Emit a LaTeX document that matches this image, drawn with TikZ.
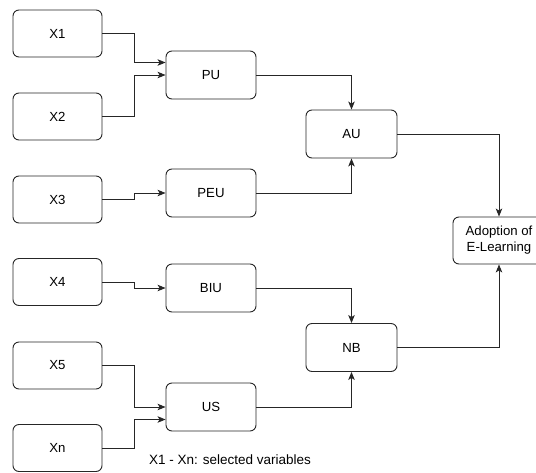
\documentclass[tikz,border=0pt]{standalone}
\usepackage{fontspec}
\setmainfont{Liberation Sans}
\usetikzlibrary{arrows.meta}
\begin{document}
\begin{tikzpicture}[x=1pt,y=-1pt,
  box/.style={draw=black!85, line width=0.9pt, rounded corners=6pt, minimum height=47pt, inner sep=0pt, font=\fontsize{13.2}{16}\selectfont, align=center},
  xbox/.style={box, minimum width=89pt},
  mbox/.style={box, minimum width=90pt, minimum height=48pt},
  arr/.style={draw=black!85, line width=0.9pt, -{Stealth[length=8pt,width=6.5pt,inset=2pt]}}
]
\useasboundingbox (0,0) rectangle (536,472);
\clip (0,0) rectangle (536,472);
\node[xbox] (X1) at (57.5,33.5) {X1};
\node[xbox] (X2) at (57.5,116.5) {X2};
\node[xbox] (X3) at (57.5,199.5) {X3};
\node[xbox] (X4) at (57.5,282) {X4};
\node[xbox] (X5) at (57.5,365.5) {X5};
\node[xbox] (Xn) at (57.5,448) {Xn};
\node[mbox] (PU) at (211,75) {PU};
\node[mbox] (PEU) at (211,193) {PEU};
\node[mbox] (BIU) at (211,288) {BIU};
\node[mbox] (US) at (211,407) {US};
\node[mbox, minimum width=91pt] (AU) at (351.5,134) {AU};
\node[mbox, minimum width=91pt] (NB) at (351.5,347.5) {NB};
\node[box, minimum width=92pt] (AD) at (499,240.5) {Adoption of\\E-Learning};
\node[anchor=west, inner sep=0pt, font=\fontsize{13.5}{15}\selectfont] (cap) at (149,460) {X1 - Xn: selected variables};
\draw[arr] (X1.east) -- ++(32,0) |- ([yshift=12.5pt]PU.west);
\draw[arr] (X2.east) -- ++(32,0) |- (PU.west);
\draw[arr] (X3.east) -- ++(32,0) |- (PEU.west);
\draw[arr] (X4.east) -- ++(32,0) |- (BIU.west);
\draw[arr] (X5.east) -- ++(32,0) |- (US.west);
\draw[arr] (Xn.east) -- ++(32,0) |- ([yshift=-12.5pt]US.west);
\draw[arr] (PU.east) -| (AU.north);
\draw[arr] (PEU.east) -| (AU.south);
\draw[arr] (BIU.east) -| (NB.north);
\draw[arr] (US.east) -| (NB.south);
\draw[arr] (AU.east) -| (AD.north);
\draw[arr] (NB.east) -| (AD.south);
\end{tikzpicture}
\end{document}
